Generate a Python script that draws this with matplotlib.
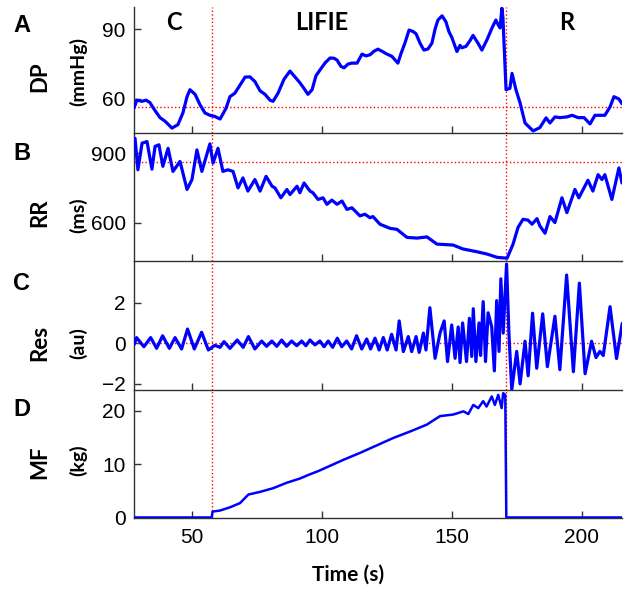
import matplotlib
matplotlib.use("Agg")
import matplotlib.pyplot as plt

# ---- data ----
# time markers (s): start of LIFIE phase and start of recovery
t_onset = 57.7
t_release = 170.8

# DP (mmHg)
dp_t = [27.7, 28.8, 30.8, 32.3, 33.8, 35.8, 37.7, 39.6, 42.3, 44.6,
        46.5, 48.1, 49.2, 51.2, 53.1, 55.0, 56.9, 58.8, 60.8, 63.1,
        64.6, 66.5, 68.5, 70.4, 72.3, 74.2, 76.2, 78.1, 80.0, 81.2,
        83.1, 85.4, 87.7, 89.6, 91.5, 93.1, 94.6, 96.2, 97.7, 99.2,
        101.2, 103.1, 104.6, 105.8, 107.3, 108.5, 110.0, 111.5, 113.5, 115.4,
        116.9, 118.5, 120.0, 121.5, 123.1, 124.6, 126.9, 129.2, 130.4, 131.9,
        133.5, 135.0, 136.2, 137.7, 139.2, 140.8, 142.3, 143.5, 144.6, 146.2,
        147.7, 148.8, 150.0, 151.9, 153.1, 153.8, 155.4, 156.9, 158.1, 160.0,
        161.5, 163.5, 165.4, 166.9, 167.7, 168.5, 169.2, 169.6, 170.8, 172.3,
        173.1, 174.6, 176.2, 178.1, 181.2, 183.8, 186.2, 187.7, 189.6, 191.5,
        194.2, 196.2, 198.5, 200.8, 203.1, 205.0, 208.8, 210.8, 212.3, 214.2,
        215.4]
dp_v = [56.1, 59.5, 59.0, 59.5, 58.5, 55.0, 52.0, 50.5, 47.5, 49.0,
        54.0, 61.0, 64.0, 62.0, 57.5, 54.0, 53.0, 52.5, 51.4, 56.0,
        61.0, 62.5, 66.0, 69.4, 69.5, 67.5, 63.5, 62.0, 59.5, 59.0,
        62.5, 68.5, 72.0, 69.5, 67.0, 64.5, 62.0, 64.0, 70.0, 72.4,
        75.5, 77.6, 77.5, 76.7, 74.0, 73.4, 75.0, 75.4, 75.4, 79.3,
        78.5, 79.0, 80.5, 81.4, 80.5, 79.5, 78.3, 75.4, 79.5, 84.0,
        89.6, 89.0, 88.0, 84.0, 81.0, 81.5, 84.0, 90.0, 93.9, 95.7,
        93.1, 89.0, 86.3, 80.4, 83.0, 82.0, 82.6, 85.0, 87.3, 84.0,
        81.0, 85.5, 90.5, 93.9, 92.0, 90.5, 99.0, 95.0, 64.0, 64.6,
        71.0, 64.0, 58.3, 49.7, 46.3, 47.7, 51.9, 49.7, 52.3, 52.0,
        52.3, 53.0, 52.0, 52.0, 49.3, 53.0, 53.0, 56.6, 61.0, 60.0,
        58.0]
dp_ref = 56.6

# RR (ms)
rr_t = [28.1, 29.2, 30.8, 32.7, 34.6, 35.8, 37.3, 38.8, 40.8, 42.7,
        45.4, 48.1, 50.0, 51.9, 53.8, 56.9, 58.1, 60.0, 61.9, 63.8,
        65.8, 67.7, 69.6, 71.5, 74.2, 76.2, 78.5, 80.8, 81.9, 84.2,
        86.5, 87.7, 90.4, 91.5, 93.1, 95.4, 96.5, 98.5, 100.4, 101.9,
        103.8, 105.8, 107.7, 109.6, 111.5, 114.6, 116.5, 118.5, 119.6, 122.3,
        126.2, 128.8, 132.7, 136.5, 140.4, 144.2, 150.4, 154.2, 159.6, 163.5,
        167.3, 171.2, 173.5, 175.4, 177.3, 179.2, 180.8, 182.7, 183.8, 185.8,
        187.7, 189.6, 192.3, 194.2, 197.3, 198.8, 202.3, 204.2, 206.2, 207.7,
        208.8, 211.5, 214.2, 215.4]
rr_v = [964, 828, 943, 950, 831, 929, 936, 843, 921, 821,
        864, 743, 786, 914, 821, 940, 857, 921, 821, 828,
        821, 750, 793, 736, 786, 736, 800, 757, 750, 707,
        743, 721, 757, 729, 771, 736, 729, 700, 707, 679,
        697, 679, 693, 657, 664, 629, 636, 621, 626, 593,
        575, 571, 536, 533, 538, 507, 503, 486, 474, 464,
        450, 446, 507, 579, 614, 611, 593, 617, 586, 554,
        626, 600, 707, 643, 743, 707, 783, 736, 807, 786,
        807, 700, 836, 771]
rr_ref = 861

# Res (au)
res_t = [27.8, 28.7, 31.5, 34.1, 36.4, 38.7, 41.3, 43.5, 46.0, 48.3,
         50.9, 53.7, 56.3, 58.8, 60.8, 62.3, 64.6, 67.4, 69.7, 71.7,
         74.2, 76.8, 78.7, 80.7, 82.6, 84.5, 86.4, 88.3, 90.3, 92.2,
         93.8, 95.4, 97.3, 99.2, 100.8, 102.4, 104.1, 105.9, 107.6, 109.5,
         111.4, 113.3, 115.3, 117.2, 118.7, 120.4, 122.0, 123.6, 125.1, 126.8,
         128.5, 129.7, 131.3, 133.2, 134.5, 136.2, 137.4, 139.0, 140.0, 141.5,
         143.5, 145.4, 147.0, 148.3, 149.9, 151.2, 152.4, 153.1, 154.1, 155.6,
         156.7, 157.6, 158.2, 159.2, 160.4, 161.0, 162.0, 162.9, 163.9, 165.3,
         166.3, 167.2, 168.1, 168.8, 169.7, 171.0, 171.9, 173.0, 174.9, 176.2,
         178.1, 179.3, 181.0, 182.6, 184.9, 186.7, 189.6, 191.5, 194.1, 196.7,
         199.0, 201.2, 203.7, 205.4, 206.9, 208.2, 210.8, 213.3, 215.5]
res_v = [-0.05, 0.28, -0.17, 0.28, -0.25, 0.37, -0.25, 0.28, -0.28, 0.70,
         -0.28, 0.54, -0.33, -0.10, -0.20, 0.08, -0.25, 0.16, -0.20, 0.33,
         -0.28, 0.11, -0.15, 0.11, -0.15, 0.16, -0.15, 0.11, -0.12, 0.11,
         -0.12, 0.16, -0.08, 0.11, -0.17, 0.11, -0.20, 0.25, -0.17, 0.11,
         -0.28, 0.37, -0.28, 0.21, -0.28, 0.25, -0.33, 0.28, -0.33, 0.44,
         -0.33, 1.10, -0.41, 0.33, -0.41, 0.33, -0.45, 0.50, -0.33, 1.75,
         -0.74, 0.50, 1.10, -0.90, 0.90, -0.74, 0.80, -0.95, 1.00, -0.90,
         1.23, -0.65, 1.70, -0.90, 1.00, -0.60, 2.05, -0.90, 1.50, 0.80,
         -1.36, 2.10, -0.40, 3.17, 0.50, 3.90, 0.50, -2.28, -0.40, -2.00,
         0.10, -1.60, 1.48, -1.23, 1.45, -1.15, 1.33, -1.30, 3.36, -1.40,
         2.96, -1.50, 0.10, -0.70, -0.40, -0.60, 1.80, -0.75, 0.98]

# MF (kg)
mf_t = [27.7, 57.6, 57.9, 60.8, 64.6, 68.5, 71.7, 76.2, 81.3, 86.4,
        91.5, 95.4, 98.6, 101.8, 108.2, 114.6, 121.0, 127.4, 133.8, 140.3,
        145.4, 150.5, 154.4, 156.3, 158.2, 160.1, 162.0, 163.3, 165.3, 166.5,
        167.8, 169.1, 169.7, 170.5, 170.9, 215.4]
mf_v = [0.0, 0.0, 1.1, 1.3, 1.9, 2.7, 4.3, 4.8, 5.5, 6.5,
        7.3, 8.1, 8.7, 9.4, 10.8, 12.1, 13.5, 14.9, 16.1, 17.4,
        19.0, 19.3, 19.9, 19.4, 21.1, 20.5, 21.8, 20.8, 22.7, 21.1,
        23.0, 20.5, 23.3, 23.0, 0.0, 0.0]

panels = ["A", "B", "C", "D"]
names = ["DP", "RR", "Res", "MF"]
units = ["(mmHg)", "(ms)", "(au)", "(kg)"]
phases = ["C", "LIFIE", "R"]
phase_x = [43, 100, 194]

# ---- figure ----
W, H = 626, 592
fig = plt.figure(figsize=(W / 100, H / 100), dpi=100)

bold = dict(family="Lato", fontweight="bold")
tick_font = "Liberation Sans"

left, right = 134 / W, 622 / W
edges = [7, 133, 261, 390, 518]  # pixel rows of panel tops/bottoms

series = [(dp_t, dp_v, 2.3), (rr_t, rr_v, 2.3), (res_t, res_v, 2.3), (mf_t, mf_v, 1.8)]
ylims = [(45.4, 99.5), (434, 987), (-2.3, 4.05), (-0.1, 23.9)]
yticks = [[60, 90], [600, 900], [-2, 0, 2], [0, 10, 20]]
hrefs = [dp_ref, rr_ref, 0, None]
label_y = [77, 213, 343, 462]
unit_y = [72, 215, 343, 460]
letter_y = [25, 154, 283, 409]

axes = []
for i in range(4):
    y0 = 1 - edges[i + 1] / H
    h = (edges[i + 1] - edges[i]) / H
    ax = fig.add_axes([left, y0, right - left, h])
    t, v, lw = series[i]
    ax.plot(t, v, color="#0000ff", lw=lw, zorder=3,
            solid_joinstyle="round", solid_capstyle="round")
    ax.axvline(t_onset, color="red", ls=":", lw=1, zorder=2)
    ax.axvline(t_release, color="red", ls=":", lw=1, zorder=2)
    if hrefs[i] is not None:
        ax.axhline(hrefs[i], color="red", ls=":", lw=1, zorder=2)
    ax.set_xlim(27.7, 215.4)
    ax.set_ylim(*ylims[i])
    ax.set_yticks(yticks[i])
    ax.set_xticks([50, 100, 150, 200])
    for s in ["top", "right"]:
        ax.spines[s].set_visible(False)
    for s in ["left", "bottom"]:
        ax.spines[s].set_color("#333333")
        ax.spines[s].set_linewidth(1.0)
    ax.tick_params(direction="in", length=5, width=1, color="#333333",
                   labelsize=15, pad=6)
    if i < 3:
        ax.tick_params(axis="x", labelbottom=False)
    for lab in ax.get_xticklabels() + ax.get_yticklabels():
        lab.set_fontfamily(tick_font)
    ax.patch.set_alpha(0)
    axes.append(ax)

    fig.text(22 / W, 1 - letter_y[i] / H, panels[i], ha="center", va="center",
             fontsize=17, fontweight="bold", family="Liberation Sans")
    fig.text(40 / W, 1 - label_y[i] / H, names[i], ha="center", va="center",
             rotation=90, fontsize=16, **bold)
    fig.text(78 / W, 1 - unit_y[i] / H, units[i], ha="center", va="center",
             rotation=90, fontsize=14, **bold)

for name, x in zip(phases, phase_x):
    axes[0].text(x, 93, name, ha="center", va="center", fontsize=17, **bold)

axes[3].tick_params(axis="x", pad=7)
fig.text(348 / W, 1 - 575 / H, "Time (s)", ha="center", va="center",
         fontsize=15, **bold)

fig.savefig("out.png", dpi=100)
